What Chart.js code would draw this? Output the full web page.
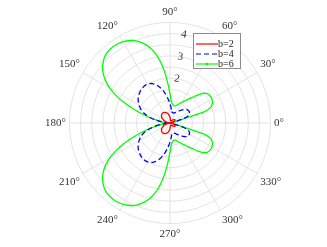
<!DOCTYPE html>
<html>
<head>
<meta charset="utf-8">
<script src="https://cdn.jsdelivr.net/npm/chart.js@4.4.1/dist/chart.umd.min.js"></script>
<style>
  html, body { margin: 0; padding: 0; background: #fff; }
  #wrap { width: 327px; height: 247px; }
</style>
</head>
<body>
<div id="wrap"><canvas id="polarChart"></canvas></div>
<script>
// angle step of the samples (deg), 0..357
const STEP = 3;

// r values, 0°..180° then 183°..357°
const rB2 = [
  0, 0.01, 0.01, 0.02, 0.03, 0.06, 0.15, 0.2, 0.23, 0.25, 0.26, 0.26, 0.25, 0.24, 0.22, 0.2, 0.18, 0.16, 0.14, 0.13,
  0.12, 0.11, 0.1, 0.1, 0.1, 0.1, 0.11, 0.13, 0.16, 0.2, 0.25, 0.3, 0.34, 0.38, 0.42, 0.45, 0.48, 0.5, 0.52, 0.53,
  0.54, 0.55, 0.55, 0.55, 0.54, 0.53, 0.51, 0.49, 0.46, 0.43, 0.39, 0.35, 0.31, 0.26, 0.21, 0.16, 0.11, 0.07, 0.03, 0.01, 0,
  0.01, 0.03, 0.07, 0.11, 0.16, 0.21, 0.26, 0.31, 0.35, 0.39, 0.43, 0.46, 0.49, 0.51, 0.53, 0.54, 0.55, 0.55, 0.55, 0.54,
  0.53, 0.52, 0.5, 0.48, 0.45, 0.42, 0.38, 0.34, 0.3, 0.25, 0.2, 0.16, 0.13, 0.11, 0.1, 0.1, 0.1, 0.1, 0.11, 0.12,
  0.13, 0.14, 0.16, 0.18, 0.2, 0.22, 0.24, 0.25, 0.26, 0.26, 0.25, 0.23, 0.2, 0.15, 0.06, 0.03, 0.02, 0.01, 0.01
];
const rB4 = [
  0, 0.01, 0.03, 0.05, 0.08, 0.2, 0.65, 0.85, 0.94, 0.98, 1.0, 1.0, 0.99, 0.96, 0.91, 0.85, 0.78, 0.72, 0.66, 0.61,
  0.57, 0.53, 0.5, 0.48, 0.47, 0.47, 0.48, 0.52, 0.6, 0.72, 0.85, 1.0, 1.15, 1.32, 1.48, 1.62, 1.75, 1.85, 1.93, 1.98,
  2.01, 2.02, 2.01, 1.99, 1.96, 1.92, 1.88, 1.83, 1.76, 1.68, 1.6, 1.5, 1.4, 1.27, 1.1, 0.9, 0.68, 0.45, 0.25, 0.08, 0,
  0.08, 0.25, 0.45, 0.68, 0.9, 1.1, 1.27, 1.4, 1.5, 1.6, 1.68, 1.76, 1.83, 1.88, 1.92, 1.96, 1.99, 2.01, 2.02, 2.01,
  1.98, 1.93, 1.85, 1.75, 1.62, 1.48, 1.32, 1.15, 1.0, 0.85, 0.72, 0.6, 0.52, 0.48, 0.47, 0.47, 0.48, 0.5, 0.53, 0.57,
  0.61, 0.66, 0.72, 0.78, 0.85, 0.91, 0.96, 0.99, 1.0, 1.0, 0.98, 0.94, 0.85, 0.65, 0.2, 0.08, 0.05, 0.03, 0.01
];
const rB6 = [
  0, 0.02, 0.05, 0.08, 0.12, 0.3, 1.6, 1.95, 2.07, 2.13, 2.16, 2.17, 2.15, 2.1, 1.98, 1.78, 1.58, 1.42, 1.28, 1.17,
  1.07, 0.99, 0.92, 0.86, 0.81, 0.79, 0.79, 0.82, 0.88, 1.0, 1.3, 1.75, 2.3, 2.8, 3.2, 3.5, 3.72, 3.9, 4.05, 4.13,
  4.2, 4.24, 4.26, 4.25, 4.22, 4.15, 4.03, 3.88, 3.68, 3.42, 3.1, 2.7, 2.25, 1.75, 1.3, 0.95, 0.6, 0.35, 0.15, 0.05, 0,
  0.05, 0.15, 0.35, 0.6, 0.95, 1.3, 1.75, 2.25, 2.7, 3.1, 3.42, 3.68, 3.88, 4.03, 4.15, 4.22, 4.25, 4.26, 4.24, 4.2,
  4.13, 4.05, 3.9, 3.72, 3.5, 3.2, 2.8, 2.3, 1.75, 1.3, 1.0, 0.88, 0.82, 0.79, 0.79, 0.81, 0.86, 0.92, 0.99, 1.07,
  1.17, 1.28, 1.42, 1.58, 1.78, 1.98, 2.1, 2.15, 2.17, 2.16, 2.13, 2.07, 1.95, 1.6, 0.3, 0.12, 0.08, 0.05, 0.02
];

const seriesNames = ['b=2', 'b=4', 'b=6'];
const seriesColors = ['#ff0000', '#0000ff', '#00ff00'];
const rTicks = [2, 3, 4];        // labelled rings
const angleTicks = [0, 30, 60, 90, 120, 150, 180, 210, 240, 270, 300, 330];

// radar goes clockwise from startAngle; first spoke sits at 81° (where the r labels are)
const FIRST = 81;
const n = rB2.length;
const angles = [];
for (let i = 0; i < n; i++) angles.push(((FIRST - i * STEP) % 360 + 360) % 360);
const pick = arr => angles.map(a => arr[a / STEP]);

const legendBox = {
  id: 'legendBox',
  afterDraw(chart) {
    const c = chart.ctx;
    const x = 193, y = 33, w = 47, h = 35;
    c.save();
    c.fillStyle = '#fff';
    c.fillRect(x, y, w, h);
    c.strokeStyle = '#8c8c8c';
    c.lineWidth = 1;
    c.strokeRect(x + 0.5, y + 0.5, w, h);
    c.font = '10px "Liberation Serif"';
    c.textBaseline = 'middle';
    chart.data.datasets.forEach((ds, i) => {
      const ly = y + 11 + i * 10;
      c.strokeStyle = ds.borderColor;
      c.lineWidth = 1.2;
      c.setLineDash(ds.borderDash || []);
      c.beginPath();
      c.moveTo(x + 3, ly);
      c.lineTo(x + 25, ly);
      c.stroke();
      c.setLineDash([]);
      if (i === 2) {
        c.fillStyle = ds.borderColor;
        c.beginPath();
        c.arc(x + 14, ly, 1.3, 0, Math.PI * 2);
        c.fill();
      }
      c.fillStyle = '#222';
      c.fillText(ds.label, x + 25, ly);
    });
    c.restore();
  }
};

new Chart(document.getElementById('polarChart'), {
  type: 'radar',
  data: {
    labels: angles.map(a => a + '°'),
    datasets: [rB2, rB4, rB6].map((arr, i) => ({
      label: seriesNames[i],
      data: pick(arr),
      borderColor: seriesColors[i],
      borderWidth: 1.3,
      borderDash: i === 1 ? [5, 3] : [],
      fill: false,
      pointRadius: 0,
      tension: 0.15
    }))
  },
  options: {
    responsive: true,
    maintainAspectRatio: false,
    animation: false,
    devicePixelRatio: 1,
    layout: { padding: { left: 39, right: 37, top: -13, bottom: -7 } },
    plugins: { legend: { display: false }, tooltip: { enabled: false } },
    scales: {
      r: {
        startAngle: 90 - FIRST,
        min: 0,
        max: 4.5,
        ticks: {
          stepSize: 0.5,
          showLabelBackdrop: false,
          backdropPadding: 0,
          color: '#333',
          font: { family: 'Liberation Serif', size: 11 },
          callback: v => rTicks.includes(v) ? String(v) : ''
        },
        grid: { circular: true, color: '#e3e3e3', lineWidth: 1 },
        angleLines: {
          color: ctx => angleTicks.includes(angles[ctx.index]) ? '#e3e3e3' : 'rgba(0,0,0,0)',
          lineWidth: 1
        },
        pointLabels: {
          color: '#333',
          padding: -2,
          font: { family: 'Liberation Serif', size: 11 },
          callback: (label, i) => angleTicks.includes(angles[i]) ? label : ''
        }
      }
    }
  },
  plugins: [legendBox]
});
</script>
</body>
</html>
